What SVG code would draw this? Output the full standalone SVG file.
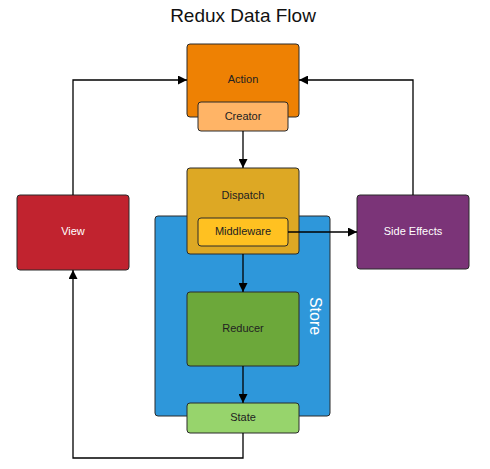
<svg xmlns="http://www.w3.org/2000/svg" width="490" height="469" viewBox="0 0 490 469">
<style>
  text { font-family: "Liberation Sans", Arial, sans-serif; font-size: 11px; text-anchor: middle; dominant-baseline: central; fill: #222; }
  .title { font-size: 19px; fill: #111; }
  .w { fill: #fff; }
  .box { stroke: #2a2a2a; stroke-width: 1; }
  .conn { fill: none; stroke: #000; stroke-width: 1.3; }
</style>
<defs>
  <marker id="ah" viewBox="0 0 10 10" refX="10" refY="5" markerWidth="10" markerHeight="9" markerUnits="userSpaceOnUse" orient="auto">
    <path d="M0,0 L10,5 L0,10 z" fill="#000"/>
  </marker>
</defs>
<rect width="490" height="469" fill="#fff"/>
<text class="title" x="243" y="15">Redux Data Flow</text>

<g id="store">
  <rect class="box" x="155" y="216" width="175" height="200" rx="3" fill="#2E97DA" stroke="#1d5f8a"/>
  <text class="w" x="315" y="316" style="font-size:16px" transform="rotate(90 315 316)">Store</text>
</g>

<g id="action">
  <rect class="box" x="187" y="44" width="112" height="73" rx="3" fill="#EE8103"/>
  <text x="243" y="79">Action</text>
</g>
<g id="creator">
  <rect class="box" x="198" y="102" width="90" height="29" rx="3" fill="#FFB466"/>
  <text x="243" y="116">Creator</text>
</g>

<g id="dispatch">
  <rect class="box" x="187" y="168" width="112" height="86" rx="3" fill="#DDA824"/>
  <text x="243" y="195">Dispatch</text>
</g>
<g id="middleware">
  <rect class="box" x="198" y="218" width="90" height="28" rx="3" fill="#FFC121"/>
  <text x="243" y="231">Middleware</text>
</g>

<g id="reducer">
  <rect class="box" x="187" y="292" width="112" height="74" rx="3" fill="#6CA83A"/>
  <text x="243" y="328">Reducer</text>
</g>

<g id="state">
  <rect class="box" x="187" y="403" width="112" height="30" rx="3" fill="#97D46C"/>
  <text x="243" y="417">State</text>
</g>

<g id="view">
  <rect class="box" x="17" y="195" width="112" height="75" rx="3" fill="#C1232F"/>
  <text class="w" x="73" y="231">View</text>
</g>

<g id="side-effects">
  <rect class="box" x="357" y="195" width="112" height="74" rx="3" fill="#7B3478"/>
  <text class="w" x="413" y="231">Side Effects</text>
</g>

<g id="connectors">
  <path class="conn" d="M73,195 V80 H187" marker-end="url(#ah)"/>
  <path class="conn" d="M413,195 V80 H299" marker-end="url(#ah)"/>
  <path class="conn" d="M243,131 V168" marker-end="url(#ah)"/>
  <path class="conn" d="M288,232 H357" marker-end="url(#ah)"/>
  <path class="conn" d="M243,254 V292" marker-end="url(#ah)"/>
  <path class="conn" d="M243,366 V403" marker-end="url(#ah)"/>
  <path class="conn" d="M243,433 V458 H73 V270" marker-end="url(#ah)"/>
</g>
</svg>
